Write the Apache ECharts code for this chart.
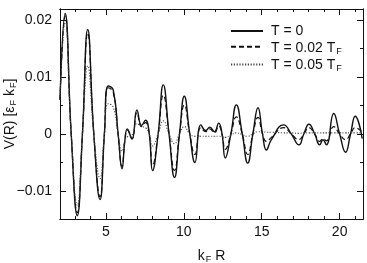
<!DOCTYPE html>
<html>
<head>
<meta charset="utf-8">
<script src="https://cdn.jsdelivr.net/npm/echarts@6/dist/echarts.min.js"></script>
<style>
  html, body { margin: 0; padding: 0; background: #fff; }
  #chart { width: 367px; height: 263px; }
</style>
</head>
<body>
<div id="chart"></div>
<script>
// k_F R sample points (peaks, dips and crossings)
const kR = [2.05, 2.38, 2.77, 3.16, 3.49, 3.83, 4.22, 4.62, 4.90, 5.15, 5.47, 5.78, 6.03, 6.22, 6.37, 6.67,
  6.99, 7.29, 7.54, 7.78, 7.99, 8.35, 8.68, 9.05, 9.40, 9.72, 10.03, 10.38, 10.71, 11.09, 11.41, 11.67,
  11.96, 12.24, 12.45, 12.66, 13.02, 13.37, 13.75, 14.10, 14.43, 14.76, 15.05, 15.30, 15.62, 16.41,
  16.90, 17.39, 17.70, 18.03, 18.40, 18.72, 18.93, 19.15, 19.62, 20.00, 20.38, 20.70, 21.00, 21.45];

// T = 0
const vT0 = [0.0060, 0.0211, 0.0000, -0.0143, 0.0000, 0.0183, 0.0000, -0.0115, 0.0000, 0.0084, 0.0077, 0.0000, -0.0061, -0.0010, 0.0009, -0.0009,
  0.0042, 0.0015, 0.0024, 0.0000, -0.0064, 0.0000, 0.0086, 0.0000, -0.0076, 0.0000, 0.0066, 0.0000, -0.0050, 0.0016, 0.0006, 0.0012,
  0.0004, 0.0019, 0.0000, -0.0042, 0.0000, 0.0051, 0.0000, -0.0051, 0.0000, 0.0046, 0.0000, -0.0028, -0.0010, 0.0016,
  0.0000, -0.0019, 0.0000, 0.0017, 0.0000, -0.0019, -0.0010, -0.0019, 0.0036, 0.0000, -0.0032, 0.0000, 0.0031, -0.0008];

// T = 0.02 T_F
const vT002 = [0.0060, 0.0207, 0.0000, -0.0138, 0.0000, 0.0177, 0.0000, -0.0110, 0.0000, 0.0081, 0.0073, 0.0000, -0.0057, -0.0010, 0.0007, -0.0008,
  0.0037, 0.0013, 0.0020, 0.0000, -0.0055, 0.0000, 0.0068, 0.0000, -0.0064, 0.0000, 0.0051, 0.0000, -0.0036, 0.0011, 0.0004, 0.0009,
  0.0002, 0.0014, 0.0000, -0.0027, 0.0000, 0.0030, 0.0000, -0.0036, 0.0000, 0.0029, 0.0000, -0.0013, -0.0006, 0.0011,
  0.0000, -0.0010, 0.0000, 0.0011, 0.0000, -0.0013, -0.0008, -0.0012, 0.0013, 0.0000, -0.0010, 0.0000, 0.0011, 0.0003];

// T = 0.05 T_F
const vT005 = [0.0060, 0.0198, 0.0000, -0.0125, 0.0000, 0.0119, 0.0000, -0.0078, 0.0000, 0.0053, 0.0047, 0.0000, -0.0030, -0.0012, -0.0005, -0.0002,
  0.0018, 0.0013, 0.0011, 0.0000, -0.0021, 0.0000, 0.0023, 0.0000, -0.0017, 0.0000, 0.0013, 0.0000, -0.0004, -0.0004, -0.0004, -0.0004,
  -0.0004, -0.0004, -0.0005, -0.0006, -0.0002, 0.0002, -0.0001, -0.0004, 0.0000, 0.0004, 0.0004, 0.0003, 0.0003, 0.0002,
  0.0002, 0.0001, 0.0002, 0.0002, 0.0002, 0.0002, 0.0002, 0.0002, 0.0002, 0.0002, 0.0002, 0.0002, 0.0002, 0.0002];

const seriesNames = ['T = 0', 'T = 0.02 T{sub|F}', 'T = 0.05 T{sub|F}'];

const xMajor = [5, 10, 15, 20];
const xMinor = [3, 4, 6, 7, 8, 9, 11, 12, 13, 14, 16, 17, 18, 19, 21];
const yMajor = [-0.01, 0, 0.01, 0.02];
const yMinor = [-0.005, 0.005, 0.015];

const X_MIN = 2.05, X_MAX = 21.5;
const Y_MIN = -0.0149, Y_MAX = 0.0219;

const FONT = 'Liberation Sans';
const ink = '#111';
const sub = { fontSize: 9, fontFamily: FONT, color: ink, padding: [7, 0, 0, 1] };

const zip = vals => kR.map((x, i) => [x, vals[i]]);

function xAx(position, ticks, len, extra) {
  return Object.assign({
    type: 'value', min: X_MIN, max: X_MAX, position: position,
    axisLine: { show: true, onZero: false, lineStyle: { color: ink, width: 1 } },
    axisTick: { show: true, inside: true, length: len, customValues: ticks, lineStyle: { color: ink } },
    axisLabel: { show: false },
    splitLine: { show: false }
  }, extra || {});
}
function yAx(position, ticks, len, extra) {
  return Object.assign({
    type: 'value', min: Y_MIN, max: Y_MAX, position: position,
    axisLine: { show: true, onZero: false, lineStyle: { color: ink, width: 1 } },
    axisTick: { show: true, inside: true, length: len, customValues: ticks, lineStyle: { color: ink } },
    axisLabel: { show: false },
    splitLine: { show: false }
  }, extra || {});
}

const chart = echarts.init(document.getElementById('chart'), null, { renderer: 'canvas' });

const option = {
  animation: false,
  backgroundColor: '#fff',
  textStyle: { fontFamily: FONT },
  grid: { left: 60, right: 4, top: 9, bottom: 44, containLabel: false, outerBoundsMode: 'none' },
  legend: {
    orient: 'vertical', left: 230, top: 24, padding: 0,
    itemWidth: 32, itemHeight: 14, itemGap: 2.7,
    itemStyle: { opacity: 0 },
    data: seriesNames,
    textStyle: { fontFamily: FONT, fontSize: 14, color: ink, height: 14, padding: [0, 0, 0, 3], rich: { sub: sub } }
  },
  xAxis: [
    xAx('bottom', xMajor, 6, {
      axisLabel: {
        show: true, customValues: xMajor, margin: 6,
        fontFamily: FONT, fontSize: 14, color: ink
      },
      name: 'k{sub|F} R', nameLocation: 'middle', nameGap: 29, nameMoveOverlap: false,
      nameTextStyle: { fontFamily: FONT, fontSize: 14, color: ink, rich: { sub: sub } }
    }),
    xAx('bottom', xMinor, 3),
    xAx('top', xMajor, 6),
    xAx('top', xMinor, 3)
  ],
  yAxis: [
    yAx('left', yMajor, 6, {
      axisLabel: {
        show: true, customValues: yMajor, margin: 8,
        fontFamily: FONT, fontSize: 14, color: ink,
        formatter: v => v === 0 ? '0' : (v < 0 ? '\u2212' + Math.abs(v).toFixed(2) : v.toFixed(2))
      },
      name: 'V(R) [\u03b5{sub|F} k{sub|F}]', nameLocation: 'middle', nameGap: 42, nameMoveOverlap: false,
      nameTextStyle: { fontFamily: FONT, fontSize: 14, color: ink, rich: { sub: sub } }
    }),
    yAx('left', yMinor, 3),
    yAx('right', yMajor, 6),
    yAx('right', yMinor, 3)
  ],
  series: [
    {
      name: seriesNames[0], type: 'line', data: zip(vT0), smooth: 0.5,
      symbol: 'none', xAxisIndex: 0, yAxisIndex: 0,
      lineStyle: { color: ink, width: 1.4, type: 'solid' }, itemStyle: { color: ink }
    },
    {
      name: seriesNames[1], type: 'line', data: zip(vT002), smooth: 0.5,
      symbol: 'none', xAxisIndex: 0, yAxisIndex: 0,
      lineStyle: { color: ink, width: 1.2, type: [5, 3] }, itemStyle: { color: ink }
    },
    {
      name: seriesNames[2], type: 'line', data: zip(vT005), smooth: 0.5,
      symbol: 'none', xAxisIndex: 0, yAxisIndex: 0,
      lineStyle: { color: '#444', width: 1.1, type: [1.2, 1.6] }, itemStyle: { color: '#444' }
    }
  ]
};

chart.setOption(option);
</script>
</body>
</html>
